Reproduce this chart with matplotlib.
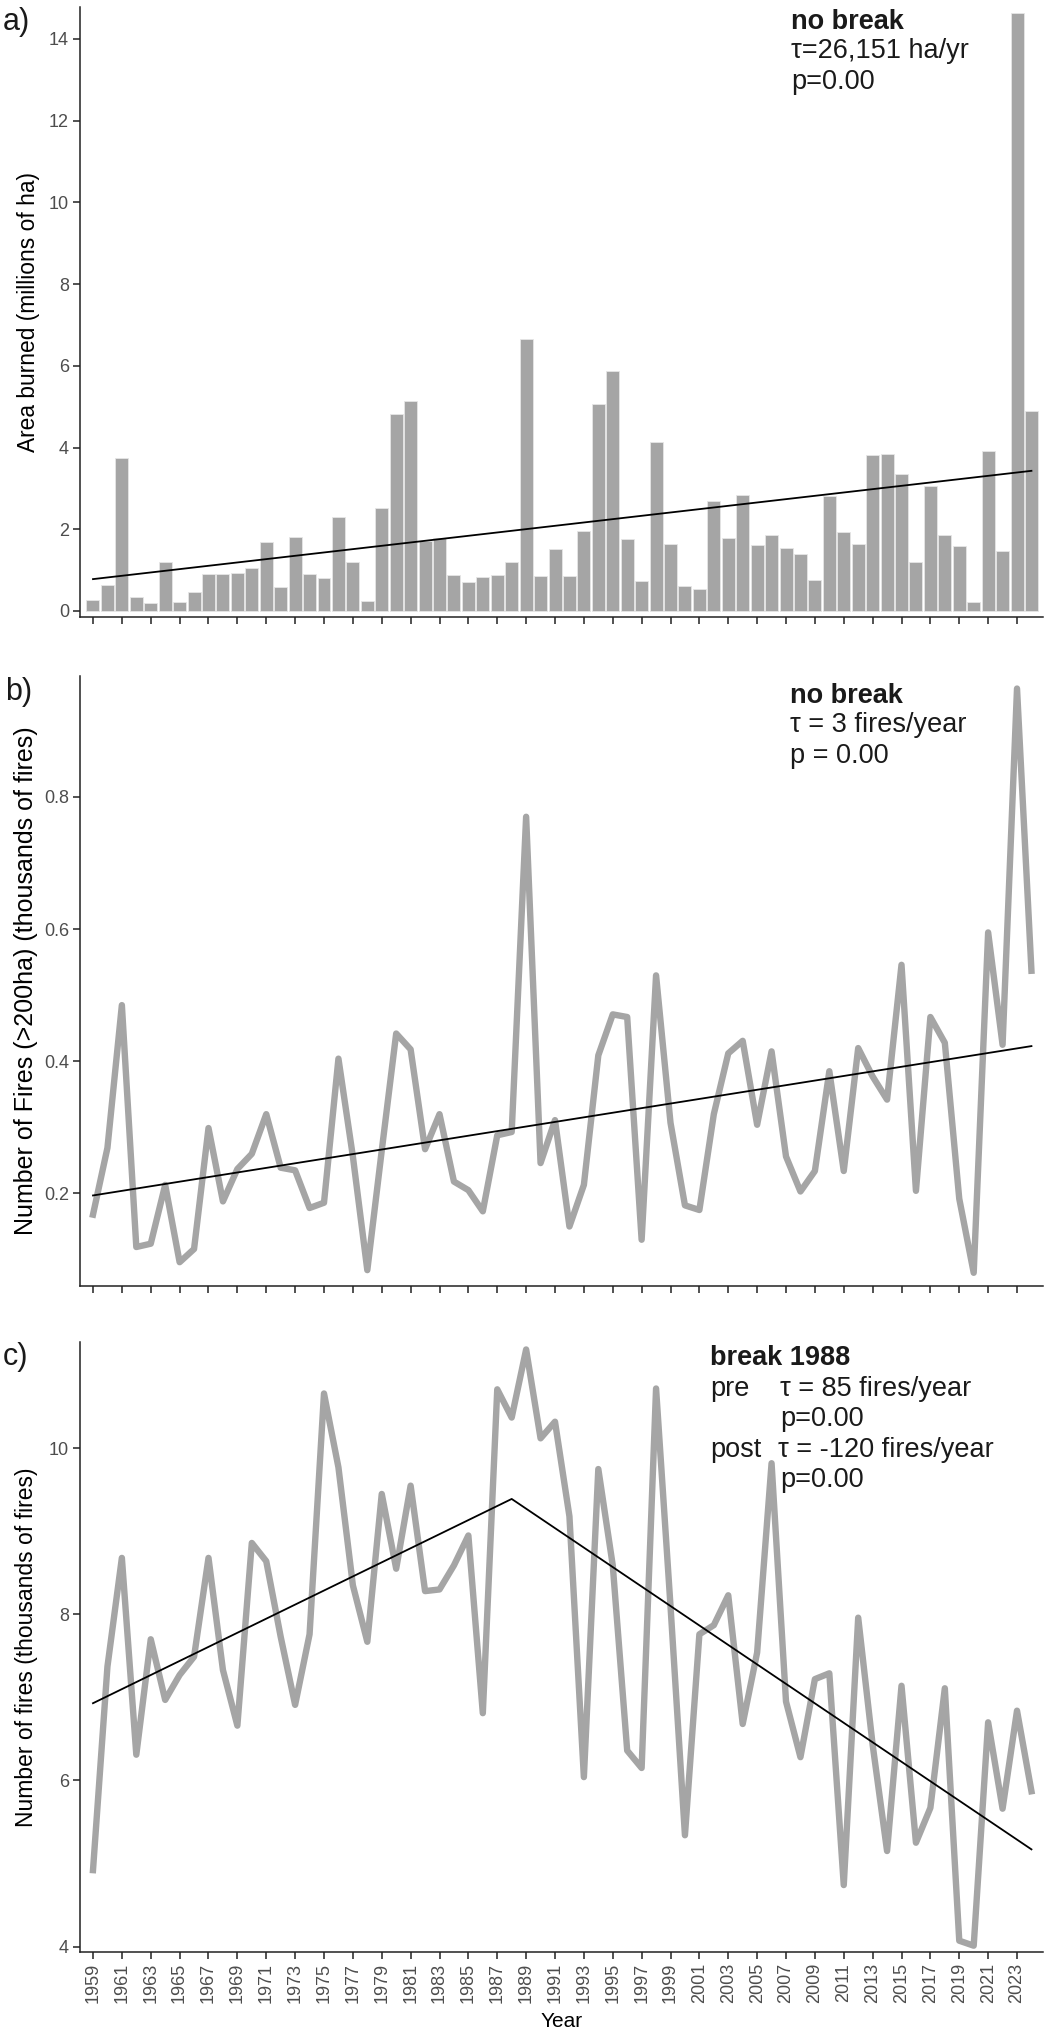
import matplotlib
matplotlib.use("Agg")
import matplotlib.pyplot as plt
import numpy as np

plt.rcParams['font.family'] = ['Liberation Sans', 'DejaVu Sans']

years = list(range(1959, 2025))

area_burned = [0.27, 0.64, 3.75, 0.34, 0.19, 1.20, 0.21, 0.46, 0.90, 0.90,
               0.94, 1.05, 1.69, 0.58, 1.82, 0.90, 0.80, 2.30, 1.19, 0.25,
               2.52, 4.83, 5.14, 1.72, 1.79, 0.88, 0.71, 0.82, 0.88, 1.21,
               6.66, 0.86, 1.52, 0.86, 1.95, 5.06, 5.88, 1.76, 0.73, 4.14,
               1.64, 0.61, 0.55, 2.70, 1.79, 2.84, 1.62, 1.87, 1.54, 1.39,
               0.77, 2.82, 1.93, 1.64, 3.82, 3.85, 3.35, 1.20, 3.05, 1.86,
               1.60, 0.21, 3.91, 1.46, 14.63, 4.90]

large_fires = [0.168, 0.269, 0.485, 0.119, 0.124, 0.213, 0.096, 0.116, 0.299, 0.188,
               0.237, 0.260, 0.320, 0.239, 0.235, 0.178, 0.186, 0.404, 0.256, 0.084,
               0.265, 0.442, 0.418, 0.267, 0.320, 0.218, 0.205, 0.173, 0.288, 0.293,
               0.770, 0.246, 0.311, 0.150, 0.213, 0.409, 0.471, 0.467, 0.130, 0.530,
               0.307, 0.182, 0.175, 0.320, 0.412, 0.431, 0.304, 0.415, 0.256, 0.203,
               0.234, 0.385, 0.234, 0.420, 0.377, 0.342, 0.546, 0.204, 0.467, 0.428,
               0.192, 0.080, 0.595, 0.425, 0.964, 0.537]

n_fires = [4.92, 7.37, 8.68, 6.31, 7.70, 6.97, 7.27, 7.49, 8.68, 7.33,
           6.66, 8.86, 8.64, 7.73, 6.91, 7.76, 10.66, 9.77, 8.35, 7.67,
           9.45, 8.55, 9.55, 8.28, 8.30, 8.59, 8.95, 6.81, 10.71, 10.37,
           11.19, 10.12, 10.32, 9.18, 6.04, 9.75, 8.59, 6.36, 6.15, 10.72,
           8.10, 5.34, 7.76, 7.87, 8.23, 6.68, 7.54, 9.82, 6.95, 6.28,
           7.22, 7.29, 4.74, 7.96, 6.43, 5.15, 7.14, 5.25, 5.67, 7.11,
           4.07, 4.01, 6.70, 5.66, 6.84, 5.87]

trend_a_years = [1959, 2024]
trend_a_vals = [0.78, 3.43]
trend_b_years = [1959, 2024]
trend_b_vals = [0.197, 0.423]
trend_c_years = [1959, 1988, 2024]
trend_c_vals = [6.93, 9.39, 5.17]

tick_years = list(range(1959, 2024, 2))
tick_labels = [str(y) for y in tick_years]

W, H = 1052, 2029
fig = plt.figure(figsize=(W / 100, H / 100), dpi=100)

def axes_px(top, bottom, left=80, right=1043):
    return fig.add_axes([left / W, 1 - bottom / H, (right - left) / W, (bottom - top) / H])

ax_a = axes_px(7, 617)
ax_b = axes_px(676, 1286)
ax_c = axes_px(1342, 1952)

GREY = '#a5a5a5'
TICKC = '#4d4d4d'

for ax in (ax_a, ax_b, ax_c):
    for s in ('top', 'right'):
        ax.spines[s].set_visible(False)
    for s in ('left', 'bottom'):
        ax.spines[s].set_linewidth(1.1)
        ax.spines[s].set_color('#222222')
    ax.tick_params(axis='both', direction='out', length=5, width=1.1,
                   color='#222222', labelcolor=TICKC, labelsize=13, pad=3)
    ax.set_xlim(1958.1, 2024.8)
    ax.set_xticks(tick_years)

# Panel a
ax_a.bar(years, area_burned, width=0.9, color=GREY, edgecolor='#e6e6e6', linewidth=0.6)
ax_a.plot(trend_a_years, trend_a_vals, color='black', lw=1.3)
ax_a.set_ylim(-0.147, 14.78)
ax_a.set_yticks([0, 2, 4, 6, 8, 10, 12, 14])
ax_a.set_xticklabels([])
ax_a.set_ylabel('Area burned (millions of ha)', fontsize=16.4, labelpad=6)

# Panel b
ax_b.plot(years, large_fires, color=GREY, lw=4.6, solid_joinstyle='round')
ax_b.plot(trend_b_years, trend_b_vals, color='black', lw=1.3)
ax_b.set_ylim(0.060, 0.983)
ax_b.set_yticks([0.2, 0.4, 0.6, 0.8])
ax_b.set_yticklabels(['0.2', '0.4', '0.6', '0.8'])
ax_b.set_xticklabels([])
ax_b.set_ylabel('Number of Fires (>200ha) (thousands of fires)', fontsize=18, labelpad=4)

# Panel c
ax_c.plot(years, n_fires, color=GREY, lw=4.6, solid_joinstyle='round')
ax_c.plot(trend_c_years, trend_c_vals, color='black', lw=1.3)
ax_c.set_ylim(3.934, 11.28)
ax_c.set_yticks([4, 6, 8, 10])
ax_c.set_xticklabels(tick_labels, rotation=90)
ax_c.set_ylabel('Number of fires (thousands of fires)', fontsize=16.5, labelpad=8)
ax_c.set_xlabel('Year', fontsize=15, labelpad=6)

ANN = 19.5

def col(xpx):
    return (xpx - 80) / (1043 - 80)

def row(ypx, top):
    return 1 - (ypx - top) / 610

# annotations a
ax_a.text(col(791), row(22, 7), 'no break', transform=ax_a.transAxes, fontsize=ANN,
          fontweight='bold', va='center', ha='left', color='#1a1a1a')
ax_a.text(col(791), row(51, 7), 'τ=26,151 ha/yr', transform=ax_a.transAxes, fontsize=ANN,
          va='center', ha='left', color='#1a1a1a')
ax_a.text(col(791), row(82, 7), 'p=0.00', transform=ax_a.transAxes, fontsize=ANN,
          va='center', ha='left', color='#1a1a1a')

# annotations b
ax_b.text(col(790), row(696, 676), 'no break', transform=ax_b.transAxes, fontsize=ANN,
          fontweight='bold', va='center', ha='left', color='#1a1a1a')
ax_b.text(col(790), row(725, 676), 'τ = 3 fires/year', transform=ax_b.transAxes, fontsize=ANN,
          va='center', ha='left', color='#1a1a1a')
ax_b.text(col(790), row(756, 676), 'p = 0.00', transform=ax_b.transAxes, fontsize=ANN,
          va='center', ha='left', color='#1a1a1a')

# annotations c
ax_c.text(col(710), row(1358, 1342), 'break 1988', transform=ax_c.transAxes, fontsize=ANN,
          fontweight='bold', va='center', ha='left', color='#1a1a1a')
ax_c.text(col(710), row(1389, 1342), 'pre', transform=ax_c.transAxes, fontsize=ANN,
          va='center', ha='left', color='#1a1a1a')
ax_c.text(col(780), row(1389, 1342), 'τ = 85 fires/year', transform=ax_c.transAxes, fontsize=ANN,
          va='center', ha='left', color='#1a1a1a')
ax_c.text(col(780), row(1419, 1342), 'p=0.00', transform=ax_c.transAxes, fontsize=ANN,
          va='center', ha='left', color='#1a1a1a')
ax_c.text(col(710), row(1450, 1342), 'post', transform=ax_c.transAxes, fontsize=ANN,
          va='center', ha='left', color='#1a1a1a')
ax_c.text(col(778), row(1450, 1342), 'τ = -120 fires/year', transform=ax_c.transAxes, fontsize=ANN,
          va='center', ha='left', color='#1a1a1a')
ax_c.text(col(780), row(1480, 1342), 'p=0.00', transform=ax_c.transAxes, fontsize=ANN,
          va='center', ha='left', color='#1a1a1a')

# panel letters
fig.text(3 / W, 1 - 22 / H, 'a)', fontsize=22, va='center', ha='left', color='#1a1a1a')
fig.text(5 / W, 1 - 692 / H, 'b)', fontsize=22, va='center', ha='left', color='#1a1a1a')
fig.text(3 / W, 1 - 1357 / H, 'c)', fontsize=22, va='center', ha='left', color='#1a1a1a')

fig.savefig('out.png', dpi=100)
